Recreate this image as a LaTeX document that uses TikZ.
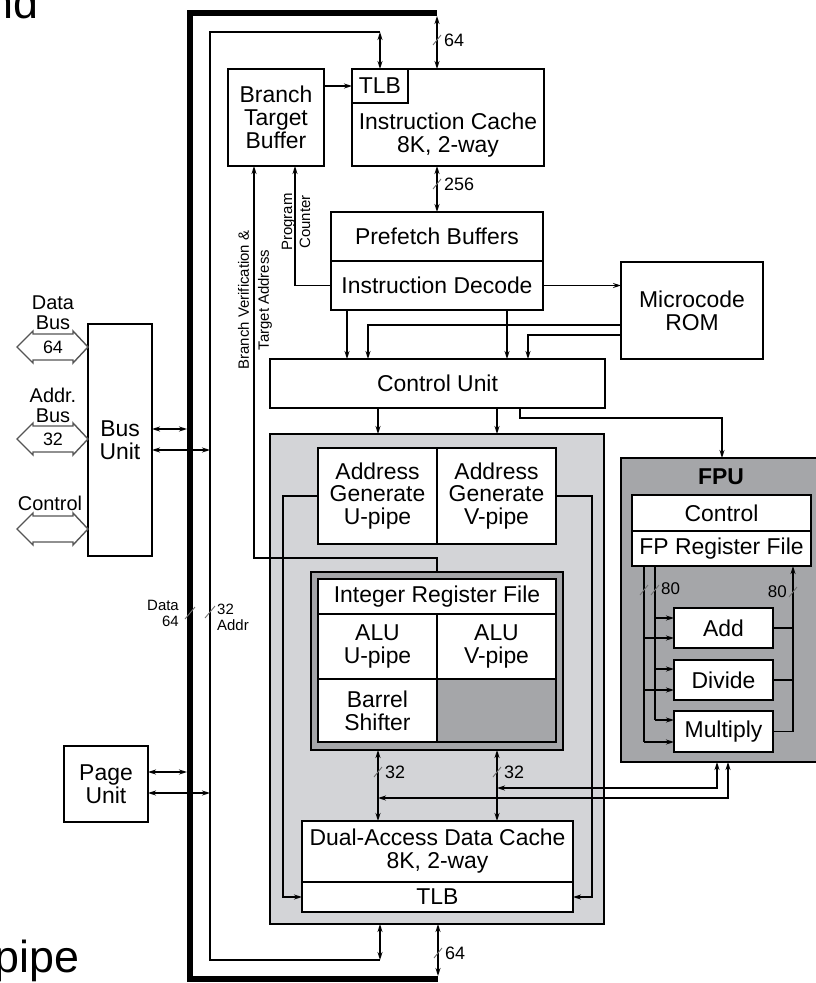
\documentclass[tikz,border=0pt]{standalone}
\usepackage{fontspec}
\setmainfont{Liberation Sans}
\usetikzlibrary{arrows.meta,calc}
\definecolor{lgray}{HTML}{D3D4D7}
\definecolor{dgray}{HTML}{A5A6A9}
\definecolor{slgray}{HTML}{555555}
\newcommand\hollowarrow[1]{%
  \draw[line width=1.4bp, draw=slgray, fill=white, line join=miter]
    (17,#1) -- (33,#1-16) -- (33,#1-13) -- (73,#1-13) -- (73,#1-16) -- (88,#1)
    -- (73,#1+16) -- (73,#1+13) -- (33,#1+13) -- (33,#1+16) -- cycle;}
\begin{document}
\begin{tikzpicture}[x=1bp,y=-1bp,
  ln/.style={line width=1.3bp, line join=miter},
  arr/.style={ln,-{Stealth[length=8bp,width=5bp]}},
  darr/.style={ln,{Stealth[length=8bp,width=5bp]}-{Stealth[length=8bp,width=5bp]}},
  box/.style={draw,line width=1.3bp,fill=white,inner sep=0pt,outer sep=0pt,align=center,
    font=\fontsize{23}{23}\selectfont},
  txt/.style={inner sep=0pt,outer sep=0pt,align=center,font=\fontsize{23}{23}\selectfont},
  lab/.style={inner sep=0pt,font=\fontsize{18}{18}\selectfont},
  slab/.style={inner sep=0pt,font=\fontsize{15}{16}\selectfont},
  rlab/.style={inner sep=0pt,rotate=90,align=center},
  slash/.style={line width=0.9bp,draw=black!55},
  busline/.style={line width=6bp,line join=miter},
]
\useasboundingbox (0,0) rectangle (816,983);

% fragments of surrounding text
\node[anchor=base west,inner sep=0pt,font=\fontsize{45}{45}\selectfont] (frag1) at (-11.5,18) {nd};
\node[anchor=base west,inner sep=0pt,font=\fontsize{45}{45}\selectfont] (frag2) at (-6,972) {pipe};

% buses
\draw[busline] (437,13) -- (190,13) -- (190,979) -- (438,979);
\draw[ln] (380,32) -- (210,32) -- (210,960) -- (380,960);

% integer unit background
\node[box,fill=lgray,minimum width=334bp,minimum height=490bp] (intbig) at (437,679) {};

% lines inside integer area
\draw[arr] (318,496) -- (283,496) -- (283,897) -- (302,897);
\draw[arr] (556,496) -- (592,496) -- (592,897) -- (573,897);

% boxes
\node[box,minimum width=96bp,minimum height=97bp] (btb) at (276,117.5) {Branch\\Target\\Buffer};
\node[box,minimum width=192bp,minimum height=97bp] (icache) at (448,117.5) {};
\node[txt] (icachet) at (448,135) {Instruction Cache\\8K, 2-way};
\node[box,minimum width=56bp,minimum height=34bp] (tlb1) at (380,86) {TLB};
\node[box,minimum width=212bp,minimum height=49bp] (prefetch) at (437,236.5) {Prefetch Buffers};
\node[box,minimum width=212bp,minimum height=49bp] (idecode) at (437,285.5) {Instruction Decode};
\node[box,minimum width=142bp,minimum height=97bp] (rom) at (692,310.5) {Microcode\\ROM};
\node[box,minimum width=335bp,minimum height=49bp] (cu) at (437.5,383.5) {Control Unit};

\node[box,minimum width=119bp,minimum height=96bp] (agu) at (377.5,496) {Address\\Generate\\U-pipe};
\node[box,minimum width=119bp,minimum height=96bp] (agv) at (496.5,496) {Address\\Generate\\V-pipe};

\node[box,fill=dgray,minimum width=252bp,minimum height=178bp] (intdark) at (437,661) {};
\node[box,fill=dgray,minimum width=238bp,minimum height=163bp] (intframe) at (437,660.5) {};
\node[box,minimum width=238bp,minimum height=35bp] (irf) at (437,596.5) {Integer Register File};
\node[box,minimum width=119bp,minimum height=65bp] (aluu) at (377.5,646.5) {ALU\\U-pipe};
\node[box,minimum width=119bp,minimum height=65bp] (aluv) at (496.5,646.5) {ALU\\V-pipe};
\node[box,minimum width=119bp,minimum height=63bp] (barrel) at (377.5,710.5) {Barrel\\Shifter};

\node[box,minimum width=271bp,minimum height=61bp] (dcache) at (437.5,851.5) {Dual-Access Data Cache\\8K, 2-way};
\node[box,minimum width=271bp,minimum height=30bp] (dtlb) at (437.5,897) {TLB};

% FPU
\node[box,fill=dgray,minimum width=199bp,minimum height=304bp] (fpu) at (720.5,610) {};
\node[txt,font=\fontsize{23}{23}\selectfont\bfseries] (fpulab) at (721,477) {FPU};
\node[box,minimum width=179bp,minimum height=36bp] (fctrl) at (721.5,513) {Control};
\node[box,minimum width=179bp,minimum height=35bp] (fprf) at (721.5,548.5) {FP Register File};
\node[box,minimum width=99bp,minimum height=40bp] (fadd) at (723.5,628) {Add};
\node[box,minimum width=99bp,minimum height=40bp] (fdiv) at (723.5,680) {Divide};
\node[box,minimum width=99bp,minimum height=41bp] (fmul) at (723.5,731.5) {Multiply};

% Bus unit and page unit
\node[box,minimum width=64bp,minimum height=232bp] (busu) at (120,440) {Bus\\Unit};
\node[box,minimum width=84bp,minimum height=76bp] (page) at (106,784) {Page\\Unit};

% external hollow arrows
\hollowarrow{347}
\hollowarrow{439}
\hollowarrow{529}
\node[inner sep=0pt,align=center,font=\fontsize{20}{20}\selectfont] (dblab) at (53,313) {Data\\Bus};
\node[lab] (db64) at (53,347) {64};
\node[inner sep=0pt,align=center,font=\fontsize{20}{20}\selectfont] (ablab) at (53,405) {Addr.\\Bus};
\node[lab] (ab32) at (53,439) {32};
\node[inner sep=0pt,align=center,font=\fontsize{20}{20}\selectfont] (ctlab) at (50,503) {Control};

% bus unit / page unit connections
\draw[darr] (busu.east |- 0,429) -- (187,429);
\draw[darr] (busu.east |- 0,450) -- (210,450);
\draw[darr] (page.east |- 0,772) -- (187,772);
\draw[darr] (page.east |- 0,793) -- (210,793);

% Data / Addr labels on the buses
\draw[slash] (185,619) -- (195,607);
\draw[slash] (205,618) -- (215,606);
\node[slab,align=right,anchor=east] (datalab) at (179,613.5) {Data\\64};
\node[slab,align=left,anchor=west] (addrlab) at (217,617.5) {32\\Addr};

% top connections
\draw[darr] (tlb1.north |- 0,32) -- (tlb1.north);
\draw[darr] (437,16) -- (icache.north -| 437,0);
\draw[slash] (433,45) -- (441,35);
\node[lab,anchor=west] (l64a) at (444,40) {64};
\draw[darr] (prefetch.north |- icache.south) -- (prefetch.north);
\draw[slash] (433,189) -- (441,179);
\node[lab,anchor=west] (l256) at (444,184) {256};

\draw[arr] (btb.east |- tlb1.west) -- (tlb1.west);

% BTB inputs
\draw[arr] (idecode.west) -- (295,285.5) -- (btb.south -| 295,0);
\draw[arr] (intdark.north) -- (437,558) -- (254,558) -- (btb.south -| 254,0);
\node[rlab,font=\fontsize{15}{20}\selectfont] (bvlab) at (255,300) {Branch Verification \&\\Target Address};
\node[rlab,font=\fontsize{15}{18}\selectfont] (pclab) at (296,222) {Program\\Counter};

% decode -> ROM, decode/ROM -> control unit
\draw[arr] (idecode.east) -- (rom.west |- idecode.east);
\draw[arr] (idecode.south -| 347,0) -- (cu.north -| 347,0);
\draw[arr] (idecode.south -| 507,0) -- (cu.north -| 507,0);
\draw[arr] (rom.west |- 0,325) -- (368,325) -- (cu.north -| 368,0);
\draw[arr] (rom.west |- 0,335) -- (528,335) -- (cu.north -| 528,0);

% control unit -> AG, FPU
\draw[arr] (cu.south -| 378,0) -- (intbig.north -| 378,0);
\draw[arr] (cu.south -| 497,0) -- (intbig.north -| 497,0);
\draw[arr] (cu.south -| 520,0) -- (520,418) -- (722,418) -- (fpu.north -| 722,0);

% integer -> data cache
\draw[darr] (intdark.south -| 378,0) -- (dcache.north -| 378,0);
\draw[darr] (intdark.south -| 497,0) -- (dcache.north -| 497,0);
\draw[slash] (374,777) -- (382,767);
\node[lab,anchor=west] (l32a) at (385,772) {32};
\draw[slash] (493,777) -- (501,767);
\node[lab,anchor=west] (l32b) at (504,772) {32};

% FPU <-> data paths
\draw[darr] (fpu.south -| 717,0) -- (717,788) -- (497,788);
\draw[darr] (fpu.south -| 728,0) -- (728,798) -- (378,798);

% data cache <-> buses
\draw[darr] (380,960) -- (intbig.south -| 380,0);
\draw[darr] (intbig.south -| 438,0) -- (438,976);
\draw[slash] (434,958) -- (442,948);
\node[lab,anchor=west] (l64b) at (445,953) {64};

% FPU internal
\draw[ln] (644,566) -- (644,742);
\draw[ln] (655,566) -- (655,720);
\draw[arr] (655,618) -- (fadd.west |- 0,618);
\draw[arr] (644,638) -- (fadd.west |- 0,638);
\draw[arr] (655,669) -- (fdiv.west |- 0,669);
\draw[arr] (644,690) -- (fdiv.west |- 0,690);
\draw[arr] (655,720) -- (fmul.west |- 0,720);
\draw[arr] (644,742) -- (fmul.west |- 0,742);
\draw[ln] (fadd.east) -- (793,628);
\draw[ln] (fdiv.east) -- (793,680);
\draw[ln] (fmul.east) -- (793,731.5);
\draw[arr] (793,731.5) -- (fprf.south -| 793,0);
\draw[slash] (640,595) -- (648,585);
\draw[slash] (651,595) -- (659,585);
\node[slab,font=\fontsize{17}{17}\selectfont,anchor=west] (l80a) at (661,589) {80};
\draw[slash] (789,597) -- (797,587);
\node[slab,font=\fontsize{17}{17}\selectfont,anchor=east] (l80b) at (787,592) {80};
\end{tikzpicture}
\end{document}
